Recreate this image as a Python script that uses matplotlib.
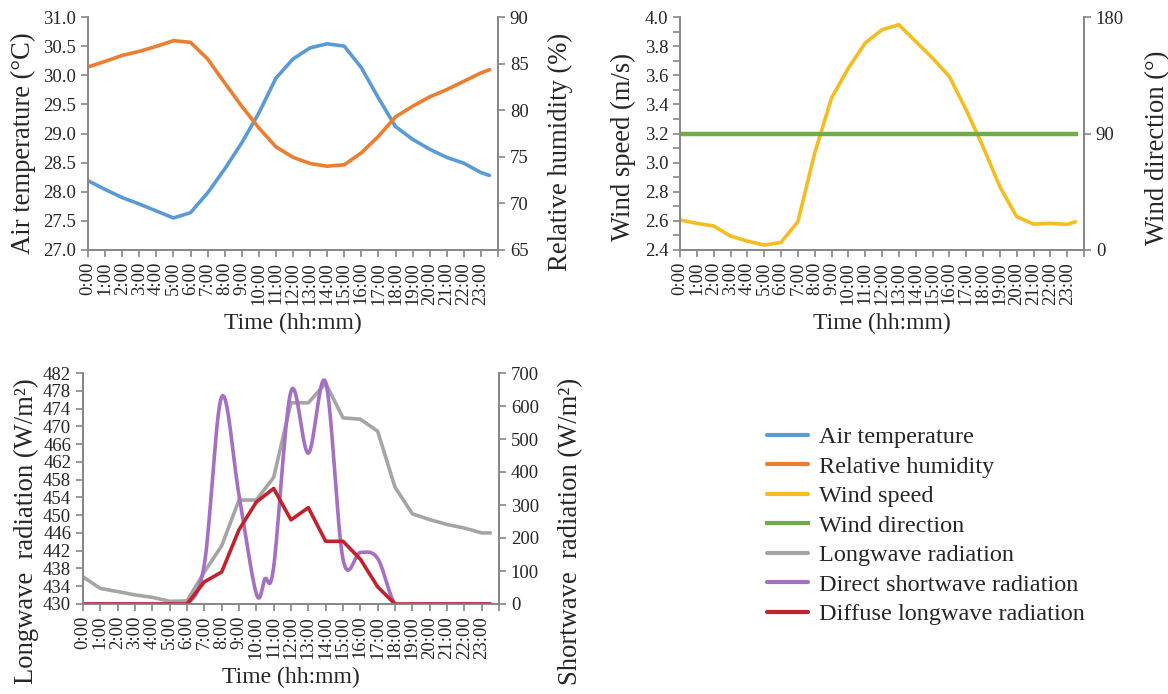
import numpy as np
import matplotlib
matplotlib.use("Agg")
import matplotlib.pyplot as plt
from matplotlib.ticker import MultipleLocator, FixedLocator, FormatStrFormatter

plt.rcParams['font.family'] = ['Liberation Serif', 'DejaVu Serif']

# ---------------- data ----------------
hours = [0, 1, 2, 3, 4, 5, 6, 7, 8, 9, 10, 11, 12, 13, 14, 15, 16, 17, 18, 19, 20, 21, 22, 23, 23.5]
tick_labels = [f"{h}:00" for h in range(24)]

air_temp = [28.19, 28.04, 27.90, 27.79, 27.67, 27.55, 27.64, 27.98, 28.39, 28.84, 29.35, 29.95, 30.28,
            30.47, 30.54, 30.50, 30.13, 29.61, 29.12, 28.90, 28.73, 28.59, 28.49, 28.33, 28.28]
rel_hum = [84.64, 85.24, 85.88, 86.31, 86.85, 87.46, 87.28, 85.5, 82.93, 80.42, 78.1, 76.07, 74.95,
           74.28, 73.99, 74.14, 75.42, 77.2, 79.28, 80.42, 81.43, 82.21, 83.1, 84.0, 84.35]

wind_speed = [2.606, 2.583, 2.565, 2.496, 2.461, 2.434, 2.452, 2.594, 3.065, 3.443, 3.649, 3.821, 3.912,
              3.947, 3.832, 3.718, 3.591, 3.362, 3.110, 2.835, 2.629, 2.578, 2.583, 2.576, 2.594]
wind_dir = [90] * 25

longwave = [436.1, 433.5, 432.8, 432.05, 431.5, 430.6, 430.7, 437.2, 443.1, 453.4, 453.4, 458.5, 475.3,
            475.3, 479.7, 471.9, 471.6, 468.9, 456.3, 450.3, 449.0, 447.9, 447.1, 446.0, 446.0]
hours_sw = [0, 1, 2, 3, 4, 5, 6, 7, 8, 9, 10, 10.5, 11, 12, 13, 14, 15, 16, 17, 18, 19, 20, 21, 22, 23, 23.5]
direct_sw = [0, 0, 0, 0, 0, 0, 0, 120, 628, 330, 31, 76, 112, 645,
             457, 672, 136, 156, 138, 0, 0, 0, 0, 0, 0, 0]
diffuse = [0, 0, 0, 0, 0, 0, 0, 67, 97, 225, 309, 350, 255,
           292, 190, 190, 136, 52, 0, 0, 0, 0, 0, 0, 0]

# ---------------- helpers ----------------
def smooth(x, y, n=16):
    P = np.column_stack([x, y]).astype(float)
    P = np.vstack([P[0], P, P[-1]])
    out = []
    t = np.linspace(0, 1, n, endpoint=False)
    for i in range(1, len(P) - 2):
        p0, p1, p2, p3 = P[i - 1], P[i], P[i + 1], P[i + 2]
        c1 = p1 + (p2 - p0) / 6
        c2 = p2 - (p3 - p1) / 6
        for tt in t:
            b = ((1 - tt) ** 3) * p1 + 3 * ((1 - tt) ** 2) * tt * c1 + 3 * (1 - tt) * tt ** 2 * c2 + tt ** 3 * p2
            out.append(b)
    out.append(P[-2])
    out = np.array(out)
    return out[:, 0], out[:, 1]

AX_COL = '#868686'
TXT_COL = '#262626'
TICK_FS = 13.5
XLAB_FS = 17
YLAB_FS = 19.2
LW = 2.6

c_blue = '#5B9BD5'
c_orange = '#ED7D31'
c_yellow = '#F5BD1F'
c_green = '#70AD47'
c_grey = '#A5A5A5'
c_purple = '#A56FC4'
c_red = '#C0232B'

W, H = 1168, 694
fig = plt.figure(figsize=(W / 100, H / 100), dpi=100)


def style_axes(ax, ax2):
    ax.spines['top'].set_visible(False)
    ax2.spines['top'].set_visible(False)
    for a in (ax, ax2):
        for s in ('left', 'right', 'bottom'):
            a.spines[s].set_color(AX_COL)
            a.spines[s].set_linewidth(1.2)
        a.tick_params(colors=AX_COL, labelcolor=TXT_COL, labelsize=TICK_FS, width=1.2, length=5,
                      direction='out')
    ax.set_xlim(0, 24)
    ax.xaxis.set_major_locator(FixedLocator(list(range(25))))
    ax.set_xticklabels(tick_labels + [''], rotation=90, fontsize=TICK_FS)
    ax.set_xlabel('Time (hh:mm)', fontsize=XLAB_FS, color=TXT_COL, labelpad=6)


def axes_px(l, r, t, b):
    return fig.add_axes([l / W, 1 - b / H, (r - l) / W, (b - t) / H])

# ---------- top-left ----------
ax1 = axes_px(88, 498, 17, 250)
ax1b = ax1.twinx()
l_at, = ax1.plot(hours, air_temp, color=c_blue, lw=LW, label='Air temperature', solid_capstyle='round', solid_joinstyle='round')
l_rh, = ax1b.plot(hours, rel_hum, color=c_orange, lw=LW, label='Relative humidity', solid_capstyle='round', solid_joinstyle='round')
ax1.set_ylim(27.0, 31.0)
ax1.yaxis.set_major_locator(MultipleLocator(0.5))
ax1.yaxis.set_major_formatter(FormatStrFormatter('%.1f'))
ax1b.set_ylim(65, 90)
ax1b.yaxis.set_major_locator(MultipleLocator(5))
style_axes(ax1, ax1b)
ax1.set_ylabel('Air temperature (°C)', fontsize=YLAB_FS, color=TXT_COL, labelpad=5)
ax1b.set_ylabel('Relative humidity (%)', fontsize=YLAB_FS, color=TXT_COL, labelpad=14)
ax1.yaxis.label.set_y(0.46)
ax1b.yaxis.label.set_y(0.42)

# ---------- top-right ----------
ax2 = axes_px(680, 1084, 17, 250)
ax2b = ax2.twinx()
l_ws, = ax2.plot(hours, wind_speed, color=c_yellow, lw=LW, label='Wind speed', solid_capstyle='round', solid_joinstyle='round')
l_wd, = ax2b.plot(hours, wind_dir, color=c_green, lw=LW + 0.6, label='Wind direction')
ax2.set_ylim(2.4, 4.0)
ax2.yaxis.set_major_locator(MultipleLocator(0.2))
ax2.yaxis.set_minor_locator(MultipleLocator(0.1))
ax2.yaxis.set_major_formatter(FormatStrFormatter('%.1f'))
ax2b.set_ylim(0, 180)
ax2b.yaxis.set_major_locator(MultipleLocator(90))
style_axes(ax2, ax2b)
ax2.tick_params(axis='y', which='minor', colors=AX_COL, width=1.2, length=5, direction='out')
ax2.set_ylabel('Wind speed (m/s)', fontsize=YLAB_FS, color=TXT_COL, labelpad=6)
ax2b.set_ylabel('Wind direction (°)', fontsize=YLAB_FS, color=TXT_COL, labelpad=15)
ax2.yaxis.label.set_y(0.44)
ax2b.yaxis.label.set_y(0.44)

# ---------- bottom-left ----------
ax3 = axes_px(83, 499, 373, 604)
ax3b = ax3.twinx()
l_lw, = ax3.plot(hours, longwave, color=c_grey, lw=LW, label='Longwave radiation', solid_capstyle='round', solid_joinstyle='round')
x, y = smooth(hours_sw, direct_sw)
l_ds, = ax3b.plot(x, y, color=c_purple, lw=LW, label='Direct shortwave radiation', solid_capstyle='round')
l_df, = ax3b.plot(hours, diffuse, color=c_red, lw=LW, label='Diffuse longwave radiation', solid_capstyle='round', solid_joinstyle='round')
ax3.set_ylim(430, 482)
ax3.yaxis.set_major_locator(FixedLocator(list(range(430, 483, 4))))
ax3b.set_ylim(0, 700)
ax3b.yaxis.set_major_locator(MultipleLocator(100))
style_axes(ax3, ax3b)
ax3.set_ylabel('Longwave  radiation (W/m²)', fontsize=YLAB_FS, color=TXT_COL, labelpad=3)
ax3b.set_ylabel('Shortwave  radiation (W/m²)', fontsize=YLAB_FS, color=TXT_COL, labelpad=14)
ax3.yaxis.label.set_y(0.315)
ax3b.yaxis.label.set_y(0.315)

# ---------- legend ----------
handles = [l_at, l_rh, l_ws, l_wd, l_lw, l_ds, l_df]
leg = fig.legend(handles=handles, labels=[h.get_label() for h in handles],
                 loc='upper left', bbox_to_anchor=(767 / W, 1 - 426 / H),
                 frameon=False, fontsize=17.5, handlelength=1.7, handletextpad=0.42,
                 labelspacing=0.31, borderpad=0, borderaxespad=0)
for t in leg.get_texts():
    t.set_color(TXT_COL)
for h in leg.legend_handles:
    h.set_linewidth(3)

fig.savefig('out.png', dpi=100)
